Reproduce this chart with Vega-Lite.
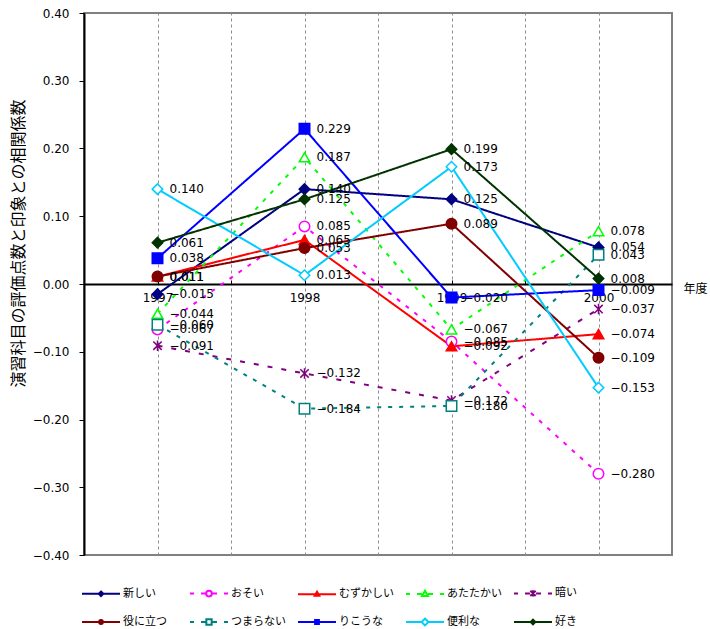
{
  "$schema": "https://vega.github.io/schema/vega-lite/v6.json",
  "width": 588,
  "height": 542,
  "autosize": {"type": "none"},
  "padding": {"left": 84, "top": 13, "right": 38, "bottom": 74},
  "background": "white",
  "config": {
    "view": {"stroke": "#808080", "strokeWidth": 2},
    "font": "DejaVu Sans"
  },
  "data": {
    "values": [
      {"year": 1997, "series": "新しい", "value": -0.015},
      {"year": 1998, "series": "新しい", "value": 0.140},
      {"year": 1999, "series": "新しい", "value": 0.125},
      {"year": 2000, "series": "新しい", "value": 0.054},
      {"year": 1997, "series": "おそい", "value": -0.067},
      {"year": 1998, "series": "おそい", "value": 0.085},
      {"year": 1999, "series": "おそい", "value": -0.085},
      {"year": 2000, "series": "おそい", "value": -0.280},
      {"year": 1997, "series": "むずかしい", "value": 0.011},
      {"year": 1998, "series": "むずかしい", "value": 0.065},
      {"year": 1999, "series": "むずかしい", "value": -0.092},
      {"year": 2000, "series": "むずかしい", "value": -0.074},
      {"year": 1997, "series": "あたたかい", "value": -0.044},
      {"year": 1998, "series": "あたたかい", "value": 0.187},
      {"year": 1999, "series": "あたたかい", "value": -0.067},
      {"year": 2000, "series": "あたたかい", "value": 0.078},
      {"year": 1997, "series": "暗い", "value": -0.091},
      {"year": 1998, "series": "暗い", "value": -0.132},
      {"year": 1999, "series": "暗い", "value": -0.172},
      {"year": 2000, "series": "暗い", "value": -0.037},
      {"year": 1997, "series": "役に立つ", "value": 0.011},
      {"year": 1998, "series": "役に立つ", "value": 0.053},
      {"year": 1999, "series": "役に立つ", "value": 0.089},
      {"year": 2000, "series": "役に立つ", "value": -0.109},
      {"year": 1997, "series": "つまらない", "value": -0.060},
      {"year": 1998, "series": "つまらない", "value": -0.184},
      {"year": 1999, "series": "つまらない", "value": -0.180},
      {"year": 2000, "series": "つまらない", "value": 0.043},
      {"year": 1997, "series": "りこうな", "value": 0.038},
      {"year": 1998, "series": "りこうな", "value": 0.229},
      {"year": 1999, "series": "りこうな", "value": -0.020},
      {"year": 2000, "series": "りこうな", "value": -0.009},
      {"year": 1997, "series": "便利な", "value": 0.140},
      {"year": 1998, "series": "便利な", "value": 0.013},
      {"year": 1999, "series": "便利な", "value": 0.173},
      {"year": 2000, "series": "便利な", "value": -0.153},
      {"year": 1997, "series": "好き", "value": 0.061},
      {"year": 1998, "series": "好き", "value": 0.125},
      {"year": 1999, "series": "好き", "value": 0.199},
      {"year": 2000, "series": "好き", "value": 0.008}
    ]
  },
  "encoding": {
    "y": {
      "field": "value", "type": "quantitative",
      "scale": {"domain": [-0.4, 0.4], "nice": false},
      "axis": {
        "orient": "left",
        "values": [-0.4, -0.3, -0.2, -0.1, 0, 0.1, 0.2, 0.3, 0.4],
        "format": ".2f", "grid": false,
        "domainColor": "black", "domainWidth": 2,
        "tickColor": "black", "tickSize": 5, "tickWidth": 1,
        "labelFont": "DejaVu Sans", "labelFontSize": 12, "labelColor": "black", "labelPadding": 10,
        "title": "演習科目の評価点数と印象との相関係数",
        "titleFont": "Noto Sans CJK JP", "titleFontSize": 16, "titleFontWeight": "normal",
        "titleColor": "black", "titleAngle": -90, "titleAlign": "center", "titleBaseline": "middle",
        "titleX": -66, "titleY": 230
      }
    }
  },
  "resolve": {
    "scale": {"shape": "independent", "stroke": "independent"},
    "axis": {"x": "independent", "y": "shared"}
  },
  "layer": [
    {
      "mark": {"type": "line", "strokeWidth": 2},
      "encoding": {
        "x": {
          "field": "year", "type": "quantitative",
          "scale": {"domain": [1996.5, 2000.5], "nice": false, "zero": false},
          "axis": {
            "orient": "top", "title": null, "labels": false, "ticks": false, "domain": false,
            "grid": true, "gridColor": "#8c8c8c", "gridDash": [3, 3], "gridWidth": 1,
            "values": [1997, 1997.5, 1998, 1998.5, 1999, 1999.5, 2000]
          }
        },
        "detail": {"field": "series"},
        "color": {
          "field": "series", "type": "nominal", "legend": null,
          "scale": {
            "domain": ["新しい", "おそい", "むずかしい", "あたたかい", "暗い", "役に立つ", "つまらない", "りこうな", "便利な", "好き"],
            "range": ["#000080", "#FF00FF", "#FF0000", "#00FF00", "#800080", "#800000", "#008080", "#0000FF", "#00CCFF", "#003300"]
          }
        },
        "strokeDash": {
          "field": "series", "type": "nominal", "legend": null,
          "scale": {
            "domain": ["新しい", "おそい", "むずかしい", "あたたかい", "暗い", "役に立つ", "つまらない", "りこうな", "便利な", "好き"],
            "range": [[1, 0], [4, 7], [1, 0], [4, 7], [5, 9], [1, 0], [4, 7], [1, 0], [1, 0], [1, 0]]
          }
        }
      }
    },
    {
      "mark": {"type": "point", "strokeWidth": 1.5, "opacity": 1, "size": 110},
      "encoding": {
        "x": {"field": "year", "type": "quantitative", "scale": {"domain": [1996.5, 2000.5], "nice": false, "zero": false}, "axis": null},
        "shape": {
          "field": "series", "type": "nominal", "legend": null,
          "scale": {
            "domain": ["新しい", "おそい", "むずかしい", "あたたかい", "暗い", "役に立つ", "つまらない", "りこうな", "便利な", "好き"],
            "range": ["diamond", "circle", "triangle-up", "triangle-up", "M-0.8,-0.8L0.8,0.8M-0.8,0.8L0.8,-0.8M0,-1L0,1", "circle", "square", "square", "diamond", "diamond"]
          }
        },
        "fill": {
          "field": "series", "type": "nominal", "legend": null,
          "scale": {
            "domain": ["新しい", "おそい", "むずかしい", "あたたかい", "暗い", "役に立つ", "つまらない", "りこうな", "便利な", "好き"],
            "range": ["#000080", "#FFFFFF", "#FF0000", "#FFFFFF", "#FFFFFF", "#800000", "#FFFFFF", "#0000FF", "#FFFFFF", "#003300"]
          }
        },
        "stroke": {
          "field": "series", "type": "nominal", "legend": null,
          "scale": {
            "domain": ["新しい", "おそい", "むずかしい", "あたたかい", "暗い", "役に立つ", "つまらない", "りこうな", "便利な", "好き"],
            "range": ["#000080", "#FF00FF", "#FF0000", "#00FF00", "#800080", "#800000", "#008080", "#0000FF", "#00CCFF", "#003300"]
          }
        }
      }
    },
    {
      "mark": {"type": "text", "align": "left", "baseline": "middle", "dx": 12, "font": "DejaVu Sans", "fontSize": 12, "fill": "black"},
      "encoding": {
        "x": {
          "field": "year", "type": "quantitative",
          "scale": {"domain": [1996.5, 2000.5], "nice": false, "zero": false},
          "axis": {
            "orient": "bottom", "offset": -271, "grid": false,
            "values": [1997, 1997.5, 1998, 1998.5, 1999, 1999.5, 2000],
            "labelExpr": "datum.value % 1 === 0 ? format(datum.value, 'd') : ''",
            "domainColor": "black", "domainWidth": 2,
            "ticks": true, "tickColor": "black", "tickSize": -4, "tickWidth": 1,
            "labelFont": "DejaVu Sans", "labelFontSize": 12, "labelColor": "black",
            "labelPadding": 12, "labelBaseline": "top",
            "title": "年度", "titleFont": "Noto Sans CJK JP", "titleFontSize": 12,
            "titleFontWeight": "normal", "titleColor": "black",
            "titleAlign": "left", "titleBaseline": "middle", "titleX": 599, "titleY": 4
          }
        },
        "text": {"field": "value", "type": "quantitative", "format": ".3f"}
      }
    },
    {
      "mark": {"type": "point", "filled": false, "opacity": 0, "strokeWidth": 2},
      "encoding": {
        "x": {"field": "year", "type": "quantitative", "scale": {"domain": [1996.5, 2000.5], "nice": false, "zero": false}, "axis": null},
        "shape": {
          "field": "series", "type": "nominal",
          "scale": {
            "domain": ["新しい", "おそい", "むずかしい", "あたたかい", "暗い", "役に立つ", "つまらない", "りこうな", "便利な", "好き"],
            "range": [
              "M-1,0L1,0M0,-0.12L0.12,0L0,0.12L-0.12,0ZM0,-0.12L0,0.12",
              "M-1,0L-0.79,0M-0.42,0L-0.16,0M0.16,0L0.42,0M0.79,0L1,0M-0.15,0A0.15,0.15,0,1,1,0.15,0A0.15,0.15,0,1,1,-0.15,0Z",
              "M-1,0L1,0M0,-0.13L0.12,0.08L-0.12,0.08ZM0,-0.1L0,0.08",
              "M-1,0L-0.79,0M-0.42,0L-0.16,0M0.16,0L0.42,0M0.79,0L1,0M0,-0.17L0.16,0.11L-0.16,0.11Z",
              "M-1,0L-0.79,0M-0.42,0L-0.16,0M0.16,0L0.42,0M0.79,0L1,0M-0.14,-0.14L0.14,0.14M-0.14,0.14L0.14,-0.14M0,-0.17L0,0.17",
              "M-1,0L1,0M-0.1,0A0.1,0.1,0,1,1,0.1,0A0.1,0.1,0,1,1,-0.1,0ZM0,-0.1L0,0.1",
              "M-1,0L-0.79,0M-0.42,0L-0.16,0M0.16,0L0.42,0M0.79,0L1,0M-0.14,-0.14L0.14,-0.14L0.14,0.14L-0.14,0.14Z",
              "M-1,0L1,0M-0.1,-0.1L0.1,-0.1L0.1,0.1L-0.1,0.1ZM0,-0.1L0,0.1",
              "M-1,0L-0.16,0M0.16,0L1,0M0,-0.18L0.18,0L0,0.18L-0.18,0Z",
              "M-1,0L1,0M0,-0.12L0.12,0L0,0.12L-0.12,0ZM0,-0.12L0,0.12"
            ]
          },
          "legend": {
            "title": null, "orient": "none", "legendX": -3, "legendY": 560,
            "columns": 5, "direction": "horizontal", "gridAlign": "all",
            "columnPadding": 8, "rowPadding": 1, "padding": 0,
            "symbolSize": 1444, "symbolStrokeWidth": 2, "symbolOpacity": 1,
            "labelFont": "Noto Sans CJK JP", "labelFontSize": 11, "labelColor": "black",
            "labelOffset": 2, "labelLimit": 200
          }
        },
        "stroke": {
          "field": "series", "type": "nominal",
          "scale": {
            "domain": ["新しい", "おそい", "むずかしい", "あたたかい", "暗い", "役に立つ", "つまらない", "りこうな", "便利な", "好き"],
            "range": ["#000080", "#FF00FF", "#FF0000", "#00FF00", "#800080", "#800000", "#008080", "#0000FF", "#00CCFF", "#003300"]
          },
          "legend": {
            "title": null, "orient": "none", "legendX": -3, "legendY": 560,
            "columns": 5, "direction": "horizontal", "gridAlign": "all",
            "columnPadding": 8, "rowPadding": 1, "padding": 0,
            "symbolSize": 1444, "symbolStrokeWidth": 2, "symbolOpacity": 1,
            "labelFont": "Noto Sans CJK JP", "labelFontSize": 11, "labelColor": "black",
            "labelOffset": 2, "labelLimit": 200
          }
        }
      }
    }
  ]
}
